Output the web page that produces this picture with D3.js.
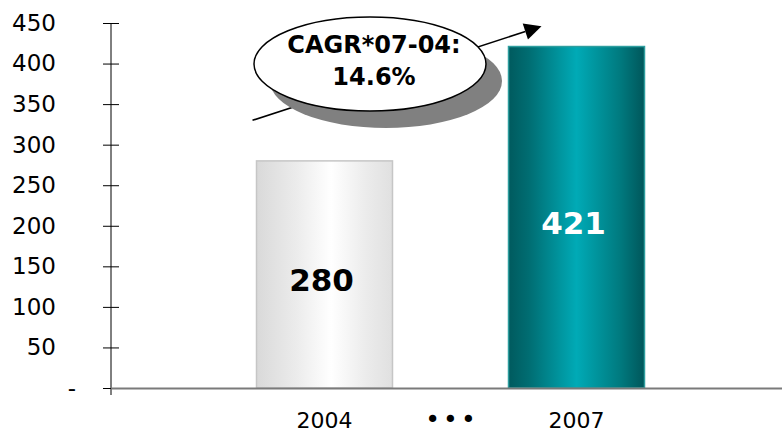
<!DOCTYPE html>
<html>
<head>
<meta charset="utf-8">
<script src="https://cdn.jsdelivr.net/npm/d3@7/dist/d3.min.js"></script>
<style>
  html, body { margin: 0; padding: 0; background: #ffffff; }
  svg { display: block; font-family: "DejaVu Sans", Verdana, sans-serif; }
</style>
</head>
<body>
<svg id="chart" width="782" height="434"></svg>
<script>
// Chart data
const categories = ["2004", "•••", "2007"];
const years = ["2004", "2007"];
const values = [280, 421];
const valueLabels = ["280", "421"];
const yTicks = [0, 50, 100, 150, 200, 250, 300, 350, 400, 450];
const yTickLabels = ["-", "50", "100", "150", "200", "250", "300", "350", "400", "450"];
const cagrLines = ["CAGR*07-04:", "14.6%"];

const svg = d3.select("#chart");
const width = 782, height = 434;
const axisX = 111;
const barWidth = 136;

const y = d3.scaleLinear().domain([0, 450]).range([388, 23]);
const x = d3.scalePoint().domain(categories).range([324.5, 576.5]);

// Gradients for the cylinder-like bars
const defs = svg.append("defs");
const gradSpecs = {
  grey: [[0, "#d9d9d9"], [0.3, "#ececec"], [0.55, "#ffffff"], [0.8, "#ececec"], [1, "#e0e0e0"]],
  teal: [[0, "#005a5e"], [0.15, "#006d72"], [0.5, "#00aab6"], [0.82, "#007a7f"], [1, "#00565a"]]
};
Object.entries(gradSpecs).forEach(([id, stops]) => {
  const g = defs.append("linearGradient").attr("id", "grad-" + id)
    .attr("x1", "0%").attr("x2", "100%").attr("y1", "0%").attr("y2", "0%");
  stops.forEach(([o, c]) => g.append("stop").attr("offset", o).attr("stop-color", c));
});

const barStyle = [
  { fill: "url(#grad-grey)", stroke: "#c6c6c6", text: "#000000" },
  { fill: "url(#grad-teal)", stroke: "#2e9e9f", text: "#ffffff" }
];

// Y axis with ticks crossing the axis line
const yAxis = d3.axisLeft(y)
  .tickValues(yTicks)
  .tickFormat((d, i) => yTickLabels[i])
  .tickSizeInner(8)
  .tickSizeOuter(0)
  .tickPadding(47);

const gy = svg.append("g").attr("transform", `translate(${axisX},0)`).call(yAxis);
gy.select(".domain").remove();
gy.selectAll(".tick line").attr("x1", -8).attr("x2", 8).attr("stroke", "#000");
gy.selectAll(".tick text")
  .attr("font-size", 23)
  .attr("font-family", "DejaVu Sans, Verdana, sans-serif")
  .attr("fill", "#000")
  .attr("x", d => d === 0 ? -35 : -55);

svg.append("line")
  .attr("x1", axisX).attr("x2", axisX)
  .attr("y1", y(450)).attr("y2", y(0) + 7)
  .attr("stroke", "#000").attr("stroke-width", 1);

// Bars
const bars = svg.append("g");
years.forEach((yr, i) => {
  const cx = x(yr);
  bars.append("rect")
    .attr("x", cx - barWidth / 2)
    .attr("y", y(values[i]))
    .attr("width", barWidth)
    .attr("height", y(0) - y(values[i]))
    .attr("fill", barStyle[i].fill)
    .attr("stroke", barStyle[i].stroke)
    .attr("stroke-width", 1.5);
  bars.append("text")
    .attr("x", cx - 3)
    .attr("y", (y(values[i]) + y(0)) / 2 + 6)
    .attr("text-anchor", "middle")
    .attr("dominant-baseline", "central")
    .attr("font-size", 31)
    .attr("font-weight", "bold")
    .attr("fill", barStyle[i].text)
    .text(valueLabels[i]);
});

// Category axis line
svg.append("line")
  .attr("x1", axisX).attr("x2", width)
  .attr("y1", y(0) + 0.5).attr("y2", y(0) + 0.5)
  .attr("stroke", "#7a7a7a").attr("stroke-width", 2);

// Category labels (the middle one marks the skipped years)
svg.append("g").selectAll("text")
  .data(categories)
  .join("text")
  .attr("x", d => d === "•••" ? x(d) + 1.6 : x(d))
  .attr("y", 428)
  .attr("text-anchor", "middle")
  .attr("font-size", d => d === "•••" ? 25 : 22)
  .attr("letter-spacing", d => d === "•••" ? 3.2 : null)
  .attr("fill", "#000")
  .text(d => d);

// CAGR callout: arrow behind a shadowed ellipse
const arrowStart = [x("2004") - barWidth / 2 - 4, y(330)];
const arrowEnd = [x("2007") - 35, y(446)];
const ang = Math.atan2(arrowEnd[1] - arrowStart[1], arrowEnd[0] - arrowStart[0]);
const headLen = 17, headHalf = 8.5;
const baseC = [arrowEnd[0] - headLen * Math.cos(ang), arrowEnd[1] - headLen * Math.sin(ang)];
const perp = [-Math.sin(ang), Math.cos(ang)];

const callout = svg.append("g");
callout.append("line")
  .attr("x1", arrowStart[0]).attr("y1", arrowStart[1])
  .attr("x2", baseC[0]).attr("y2", baseC[1])
  .attr("stroke", "#000").attr("stroke-width", 1.6);
callout.append("path")
  .attr("d", d3.line()([
    arrowEnd,
    [baseC[0] + perp[0] * headHalf, baseC[1] + perp[1] * headHalf],
    [baseC[0] - perp[0] * headHalf, baseC[1] - perp[1] * headHalf]
  ]) + "Z")
  .attr("fill", "#000");

const ell = { cx: 370, cy: 64, rx: 116, ry: 47 };
callout.append("ellipse")
  .attr("cx", ell.cx + 16).attr("cy", ell.cy + 17)
  .attr("rx", ell.rx).attr("ry", ell.ry)
  .attr("fill", "#808080");
callout.append("ellipse")
  .attr("cx", ell.cx).attr("cy", ell.cy)
  .attr("rx", ell.rx).attr("ry", ell.ry)
  .attr("fill", "#ffffff")
  .attr("stroke", "#000").attr("stroke-width", 1.5);
callout.selectAll("text.cagr")
  .data(cagrLines)
  .join("text")
  .attr("class", "cagr")
  .attr("x", ell.cx + 4)
  .attr("y", (d, i) => 53 + i * 32)
  .attr("text-anchor", "middle")
  .attr("font-size", 24)
  .attr("font-weight", "bold")
  .attr("fill", "#000")
  .text(d => d);
</script>
</body>
</html>
